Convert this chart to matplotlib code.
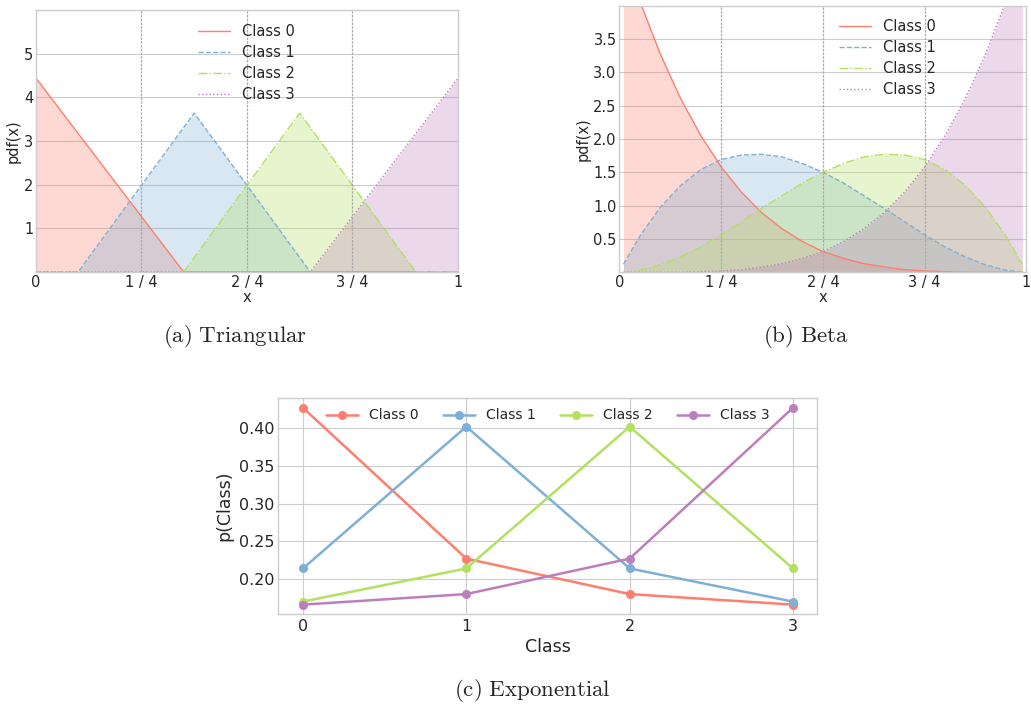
import matplotlib.pyplot as plt
import numpy as np

plt.style.use("seaborn-v0_8-whitegrid")
plt.rcParams["font.family"] = ["DejaVu Sans"]
plt.rcParams["mathtext.fontset"] = "cm"

colors = ["#fd7f6f", "#7eb0d5", "#b2e061", "#bd7ebe"]
styles = ["-", "--", "-.", ":"]
labels = ["Class 0", "Class 1", "Class 2", "Class 3"]

quarter_ticks = [0, 0.25, 0.5, 0.75, 1]
quarter_labels = ["0", "1 / 4", "2 / 4", "3 / 4", "1"]

# triangular pdfs, vertices
tri_x = [
    [0.0, 0.35, 1.0],
    [0.0, 0.10, 0.375, 0.65, 1.0],
    [0.0, 0.35, 0.625, 0.90, 1.0],
    [0.0, 0.65, 1.0],
]
tri_y = [
    [4.44, 0.0, 0.0],
    [0.0, 0.0, 3.64, 0.0, 0.0],
    [0.0, 0.0, 3.64, 0.0, 0.0],
    [0.0, 0.0, 4.44],
]

# beta pdfs, sampled from the chart
beta_x = [0.01, 0.05, 0.10, 0.15, 0.20, 0.25, 0.30, 0.35, 0.40, 0.45, 0.50,
          0.55, 0.60, 0.65, 0.70, 0.75, 0.80, 0.85, 0.90, 0.95, 0.99]
beta_0 = [4.80, 4.07, 3.28, 2.61, 2.05, 1.58, 1.20, 0.89, 0.65, 0.46, 0.31,
          0.21, 0.13, 0.08, 0.04, 0.02, 0.01, 0.0, 0.0, 0.0, 0.0]
beta_1 = [0.12, 0.54, 0.97, 1.30, 1.54, 1.69, 1.76, 1.77, 1.73, 1.63, 1.50,
          1.34, 1.15, 0.96, 0.76, 0.56, 0.38, 0.23, 0.11, 0.03, 0.0]
beta_2 = beta_1[::-1]
beta_3 = beta_0[::-1]
beta_y = [beta_0, beta_1, beta_2, beta_3]

# exponential (discrete) probabilities
exp_classes = [0, 1, 2, 3]
exp_p = [
    [0.427, 0.227, 0.180, 0.166],
    [0.214, 0.402, 0.214, 0.170],
    [0.170, 0.214, 0.402, 0.214],
    [0.166, 0.180, 0.227, 0.427],
]

fig = plt.figure(figsize=(10.31, 7.05), dpi=100)


def style_top(ax, ymax, yticks):
    ax.set_xlim(0, 1)
    ax.set_ylim(0, ymax)
    ax.set_xticks(quarter_ticks)
    ax.set_xticklabels(quarter_labels)
    ax.set_yticks(yticks)
    ax.grid(axis="x", visible=False)
    for q in [0.25, 0.5, 0.75]:
        ax.axvline(q, color="#aaaaaa", ls="--", lw=0.9, dashes=(2, 1))
    ax.tick_params(labelsize=10.5, pad=2)
    ax.set_xlabel("x", fontsize=10.5, labelpad=0)
    ax.set_ylabel("pdf(x)", fontsize=10.5, labelpad=2)
    for s in ax.spines.values():
        s.set_color("#cccccc")


# (a) triangular
ax1 = fig.add_axes([0.0349, 0.6142, 0.4093, 0.3716])
for i in range(4):
    ax1.plot(tri_x[i], tri_y[i], color=colors[i], ls=styles[i], lw=1, label=labels[i])
    ax1.fill_between(tri_x[i], tri_y[i], color=colors[i], alpha=0.3, lw=0)
style_top(ax1, 6, [1, 2, 3, 4, 5])
ax1.legend(loc="upper center", bbox_to_anchor=(0.498, 1.0), fontsize=10.5, frameon=False,
           handlelength=2.2, handletextpad=0.8, borderaxespad=0.55, labelspacing=0.42)

# (b) beta
ax2 = fig.add_axes([0.6008, 0.6138, 0.3948, 0.3782])
for i in range(4):
    ax2.plot(beta_x, beta_y[i], color=colors[i], ls=styles[i], lw=1, label=labels[i])
    ax2.fill_between(beta_x, beta_y[i], color=colors[i], alpha=0.3, lw=0)
style_top(ax2, 4, [0.5, 1.0, 1.5, 2.0, 2.5, 3.0, 3.5])
ax2.legend(loc="upper right", bbox_to_anchor=(0.81, 1.0), fontsize=10.5, frameon=False,
           handlelength=2.2, handletextpad=0.8, borderaxespad=0.5, labelspacing=0.42)

# (c) exponential
ax3 = fig.add_axes([0.2701, 0.1284, 0.5228, 0.3071])
for i in range(4):
    ax3.plot(exp_classes, exp_p[i], color=colors[i], marker="o", ms=5.5, lw=1.8,
             label=labels[i])
ax3.set_xticks(exp_classes)
ax3.set_yticks([0.20, 0.25, 0.30, 0.35, 0.40])
ax3.tick_params(labelsize=11.5, pad=3)
ax3.set_xlabel("Class", fontsize=12.5, labelpad=3)
ax3.set_ylabel("p(Class)", fontsize=12.5, labelpad=4)
for s in ax3.spines.values():
    s.set_color("#cccccc")
ax3.legend(loc="upper center", bbox_to_anchor=(0.5, 1.0), ncol=4, fontsize=10,
           frameon=False, handlelength=2.3, borderaxespad=0.35, columnspacing=1.75)

fig.text(0.228, 0.522, r"$\mathrm{(a)\ Triangular}$", fontsize=16.5, ha="center", va="center")
fig.text(0.782, 0.522, r"$\mathrm{(b)\ Beta}$", fontsize=16.5, ha="center", va="center")
fig.text(0.516, 0.020, r"$\mathrm{(c)\ Exponential}$", fontsize=16.5, ha="center", va="center")

fig.savefig("out.png", dpi=100)
